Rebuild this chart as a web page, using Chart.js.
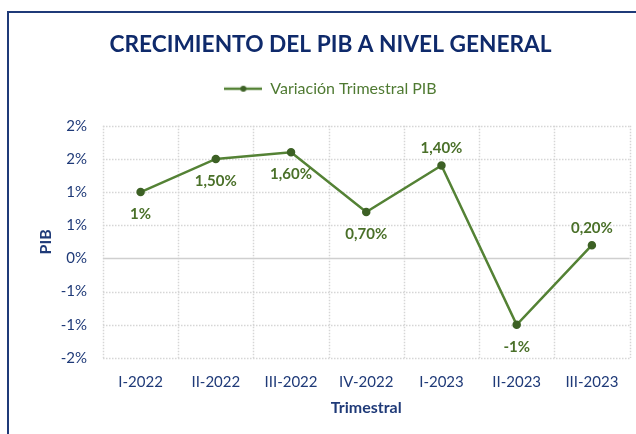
<!DOCTYPE html>
<html lang="es">
<head>
<meta charset="utf-8">
<title>Crecimiento del PIB a nivel general</title>
<script src="https://cdn.jsdelivr.net/npm/chart.js@4.4.0/dist/chart.umd.min.js"></script>
<style>
    html, body { margin: 0; padding: 0; background: #ffffff; }
    #contenedor { position: relative; width: 636px; height: 434px; }
    #marco {
        position: absolute; left: 7px; top: 11px; right: 0; bottom: 0;
        border-top: 2px solid #1f3a78; border-left: 2px solid #1f3a78;
        pointer-events: none;
    }
</style>
</head>
<body>
<div id="contenedor">
    <canvas id="graficoPIB" width="636" height="434"></canvas>
    <div id="marco"></div>
</div>
<script>
// Trimestres del eje X
const trimestres = ["I-2022", "II-2022", "III-2022", "IV-2022", "I-2023", "II-2023", "III-2023"];

// Variación trimestral del PIB (%)
const variacionPIB = [1.0, 1.5, 1.6, 0.7, 1.4, -1.0, 0.2];

// Marcas del eje Y (%)
const marcasY = [-1.5, -1.0, -0.5, 0, 0.5, 1.0, 1.5, 2.0];

const VERDE = '#548235';
const VERDE_OSCURO = '#3d6125';
const AZUL = '#1f3a78';
const GRIS = '#d6d6d6';
const FUENTE = 'Lato, "Open Sans", sans-serif';

/**
 * Formato de etiqueta estilo Excel: enteros sin decimales, el resto con dos y coma decimal
 */
function formatoEtiqueta(v) {
    if (Number.isInteger(v)) return v + '%';
    return v.toFixed(2).replace('.', ',') + '%';
}

/**
 * Formato del eje Y: redondeo a entero alejándose del cero
 */
function formatoEje(v) {
    const r = Math.sign(v) * Math.round(Math.abs(v));
    return (r === 0 ? 0 : r) + '%';
}

/**
 * Icono de la leyenda: línea con marcador en el centro
 */
function iconoLeyenda() {
    const c = document.createElement('canvas');
    c.width = 38;
    c.height = 8;
    const g = c.getContext('2d');
    g.strokeStyle = VERDE;
    g.lineWidth = 2.5;
    g.beginPath();
    g.moveTo(0, 4);
    g.lineTo(38, 4);
    g.stroke();
    g.fillStyle = VERDE_OSCURO;
    g.beginPath();
    g.arc(19, 4, 3, 0, Math.PI * 2);
    g.fill();
    return c;
}

// Espacio extra bajo la leyenda
const espacioLeyenda = {
    id: 'espacioLeyenda',
    beforeInit(chart) {
        const fitOriginal = chart.legend.fit;
        chart.legend.fit = function () {
            fitOriginal.bind(chart.legend)();
            this.height += 19;
        };
    }
};

// Cuadrícula punteada y línea continua del cero
const cuadricula = {
    id: 'cuadricula',
    beforeDatasetsDraw(chart) {
        const { ctx, chartArea, scales } = chart;
        const { left, right, top, bottom } = chartArea;
        ctx.save();
        ctx.strokeStyle = GRIS;
        ctx.lineWidth = 1.5;
        ctx.setLineDash([1.5, 1.5]);
        scales.y.ticks.forEach(t => {
            if (t.value === 0) return;
            const y = Math.round(scales.y.getPixelForValue(t.value)) + 0.5;
            ctx.beginPath();
            ctx.moveTo(left, y);
            ctx.lineTo(right, y);
            ctx.stroke();
        });
        const ancho = (right - left) / trimestres.length;
        for (let i = 0; i <= trimestres.length; i++) {
            const x = Math.round(left + i * ancho) + 0.5;
            ctx.beginPath();
            ctx.moveTo(x, top);
            ctx.lineTo(x, bottom);
            ctx.stroke();
        }
        ctx.setLineDash([]);
        ctx.strokeStyle = '#cfcfcf';
        ctx.lineWidth = 1.5;
        const y0 = scales.y.getPixelForValue(0);
        ctx.beginPath();
        ctx.moveTo(left, y0);
        ctx.lineTo(right, y0);
        ctx.stroke();
        ctx.restore();
    }
};

// Etiquetas de valor sobre/bajo cada punto
const etiquetasValor = {
    id: 'etiquetasValor',
    afterDatasetsDraw(chart, args, opts) {
        const { ctx } = chart;
        const meta = chart.getDatasetMeta(0);
        const datos = chart.data.datasets[0].data;
        ctx.save();
        ctx.font = 'bold 15px ' + FUENTE;
        ctx.fillStyle = opts.color;
        ctx.textAlign = 'center';
        ctx.textBaseline = 'middle';
        meta.data.forEach((p, i) => {
            const arriba = opts.posiciones[i] === 'arriba';
            const dy = arriba ? -17 : 22;
            ctx.fillText(formatoEtiqueta(datos[i]), p.x, p.y + dy);
        });
        ctx.restore();
    }
};

const ctx = document.getElementById('graficoPIB');
const grafico = new Chart(ctx, {
    type: 'line',
    data: {
        labels: trimestres,
        datasets: [{
            label: 'Variación Trimestral PIB',
            data: variacionPIB,
            borderColor: VERDE,
            borderWidth: 2.5,
            pointBackgroundColor: VERDE_OSCURO,
            pointBorderColor: VERDE_OSCURO,
            pointRadius: 3,
            tension: 0
        }]
    },
    options: {
        responsive: false,
        animation: false,
        layout: { padding: { top: 0, right: 5, bottom: 0, left: 30 } },
        plugins: {
            tooltip: { enabled: false },
            title: {
                display: true,
                text: 'CRECIMIENTO DEL PIB A NIVEL GENERAL',
                color: '#0f2a6b',
                font: { family: FUENTE, size: 22.7, weight: 'bold' },
                padding: { top: 31.5, bottom: 12 }
            },
            legend: {
                display: true,
                labels: {
                    usePointStyle: true,
                    pointStyleWidth: 38,
                    color: '#4f7a32',
                    font: { family: FUENTE, size: 16 },
                    padding: 10,
                    generateLabels(chart) {
                        const items = Chart.defaults.plugins.legend.labels.generateLabels(chart);
                        items.forEach(it => { it.pointStyle = iconoLeyenda(); });
                        return items;
                    }
                }
            },
            etiquetasValor: {
                color: '#4a7029',
                posiciones: ['abajo', 'abajo', 'abajo', 'abajo', 'arriba', 'abajo', 'arriba']
            }
        },
        scales: {
            x: {
                offset: true,
                grid: { display: false, drawTicks: false },
                border: { display: false },
                ticks: { color: AZUL, font: { family: FUENTE, size: 15 }, padding: 15 },
                title: {
                    display: true,
                    text: 'Trimestral',
                    color: AZUL,
                    font: { family: FUENTE, size: 16, weight: 'bold' },
                    padding: { top: 0, bottom: 17 }
                },
                afterFit(scale) { scale.height = 76; }
            },
            y: {
                min: -1.5,
                max: 2.0,
                afterBuildTicks(scale) {
                    scale.ticks = marcasY.map(v => ({ value: v }));
                },
                grid: { display: false, drawTicks: false },
                border: { display: false },
                ticks: {
                    color: AZUL,
                    font: { family: FUENTE, size: 15 },
                    padding: 16,
                    callback: v => formatoEje(v)
                },
                title: {
                    display: true,
                    text: 'PIB',
                    color: AZUL,
                    font: { family: FUENTE, size: 16, weight: 'bold' },
                    padding: { top: 6, bottom: 0 }
                },
                afterFit(scale) { scale.width = 73; }
            }
        }
    },
    plugins: [espacioLeyenda, cuadricula, etiquetasValor]
});
</script>
</body>
</html>
